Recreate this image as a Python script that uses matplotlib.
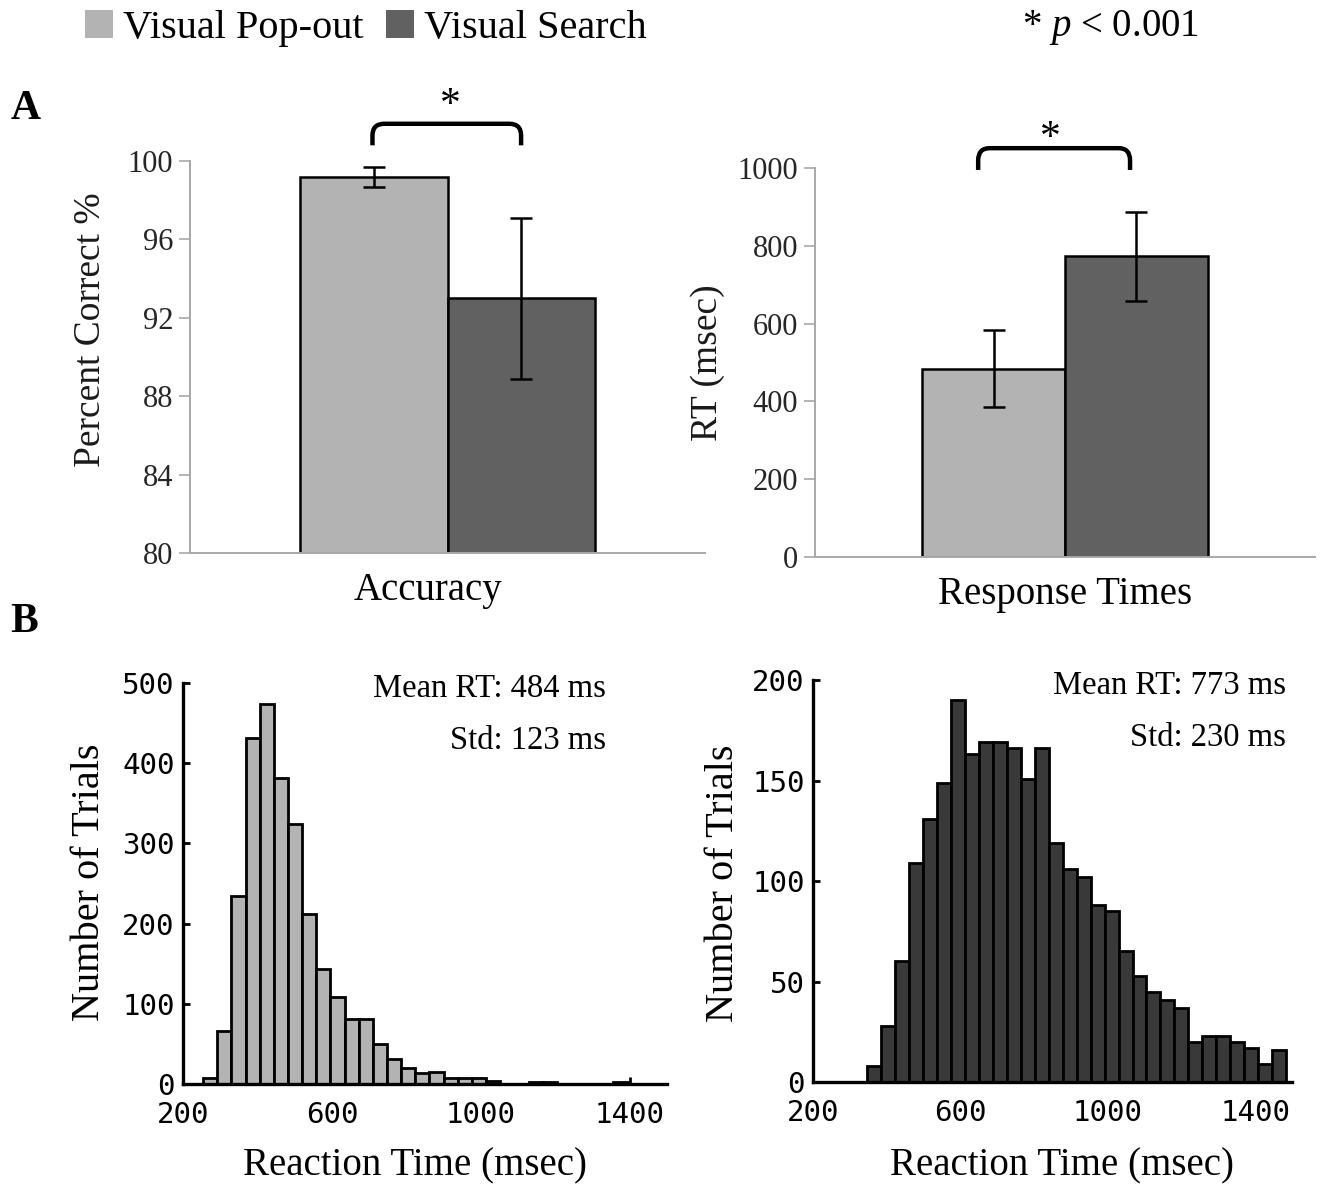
import numpy as np
import matplotlib.pyplot as plt
from matplotlib.patches import Patch, PathPatch
from matplotlib.path import Path

plt.rcParams['font.family'] = ['Liberation Serif', 'DejaVu Serif']
plt.rcParams['mathtext.fontset'] = 'custom'
plt.rcParams['mathtext.rm'] = 'Liberation Serif'
plt.rcParams['mathtext.it'] = 'Liberation Serif:italic'

# ---------------- data ----------------
conditions = ["Visual Pop-out", "Visual Search"]
acc_mean = [99.2, 93.0]
acc_err = [0.5, 4.1]
rt_mean = [484, 773]
rt_err = [99, 115]

# histograms: 30 bins, start (ms) and width (ms)
popout_start, popout_width = 254, 38
popout_counts = [8, 66, 235, 432, 474, 382, 324, 212, 143, 108,
                 81, 81, 50, 31, 20, 14, 15, 7, 7, 7,
                 4, 0, 0, 3, 3, 0, 0, 0, 0, 3]
search_start, search_width = 347, 37.9
search_counts = [8, 28, 60, 109, 131, 149, 190, 163, 169, 169,
                 166, 151, 166, 119, 106, 102, 88, 85, 65, 53,
                 45, 41, 37, 20, 23, 23, 20, 17, 9, 16]
popout_stats = ("Mean RT: 484 ms", "Std: 123 ms")
search_stats = ("Mean RT: 773 ms", "Std: 230 ms")

c_light = '#b3b3b3'
c_dark = '#616161'
c_hist_dark = '#393939'
axis_grey = '#a8a8a8'

fig = plt.figure(figsize=(13.25, 11.84), dpi=100)


def bracket(ax, x0, x1, y_top, y_end, rx, ry):
    verts = [(x0, y_end), (x0, y_top - ry), (x0, y_top), (x0 + rx, y_top),
             (x1 - rx, y_top), (x1, y_top), (x1, y_top - ry), (x1, y_end)]
    codes = [Path.MOVETO, Path.LINETO, Path.CURVE3, Path.CURVE3,
             Path.LINETO, Path.CURVE3, Path.CURVE3, Path.LINETO]
    p = PathPatch(Path(verts, codes), fill=False, lw=3.2, color='black',
                  clip_on=False, capstyle='butt')
    ax.add_patch(p)


def bar_panel(rect, means, errs, ylim, yticks, ylabel, xlabel, label_xpos,
              ylabel_coords, br):
    ax = fig.add_axes(rect)
    x = np.arange(len(means))
    ax.bar(x, means, width=1.0, color=[c_light, c_dark], edgecolor='black',
           linewidth=1.8, zorder=2)
    ax.errorbar(x, means, yerr=errs, fmt='none', ecolor='black',
                elinewidth=1.8, capsize=8, capthick=1.8, zorder=3)
    ax.set_xlim(-1.25, 2.25)
    ax.set_ylim(*ylim)
    ax.set_yticks(yticks)
    ax.set_xticks([label_xpos])
    ax.set_xticklabels([xlabel], fontsize=28)
    ax.tick_params(axis='x', length=0, pad=14)
    ax.tick_params(axis='y', direction='out', length=8, width=1.2,
                   color=axis_grey, labelsize=22, labelcolor='#262626', pad=4)
    for s in ['top', 'right']:
        ax.spines[s].set_visible(False)
    for s in ['left', 'bottom']:
        ax.spines[s].set_color(axis_grey)
        ax.spines[s].set_linewidth(1.4)
    ax.set_ylabel(ylabel, fontsize=27, color='#1a1a1a')
    ax.yaxis.set_label_coords(*ylabel_coords)
    # br: x0, x1, y_top, y_end, ry, star_x, star_y
    bracket(ax, br[0], br[1], br[2], br[3], 0.08, br[4])
    ax.text(br[5], br[6], '*', ha='center', va='center', fontsize=30,
            clip_on=False)
    return ax


bar_panel([0.1434, 0.5329, 0.3887, 0.3311], acc_mean, acc_err, (80, 100),
          [80, 84, 88, 92, 96, 100], 'Percent Correct %', 'Accuracy', 0.37,
          (-0.159, 0.57), (-0.01, 1.0, 101.9, 100.8, 0.6, 0.52, 102.8))
bar_panel([0.6151, 0.5296, 0.3774, 0.3285], rt_mean, rt_err, (0, 1000),
          [0, 200, 400, 600, 800, 1000], 'RT (msec)', 'Response Times', 0.5,
          (-0.18, 0.5), (-0.108, 0.955, 1051, 995, 31, 0.395, 1075))


def hist_panel(rect, start, width, counts, color, ymax, yticks, stats,
               stats_x, ylabel_coords, xlabel_coords):
    ax = fig.add_axes(rect)
    edges = start + width * np.arange(len(counts))
    ax.bar(edges, counts, width=width, align='edge', color=color,
           edgecolor='black', linewidth=2.0, zorder=3)
    ax.set_xlim(200, 1500)
    ax.set_ylim(0, ymax)
    ax.set_xticks([200, 600, 1000, 1400])
    ax.set_yticks(yticks)
    for s in ['top', 'right']:
        ax.spines[s].set_visible(False)
    for s in ['left', 'bottom']:
        ax.spines[s].set_linewidth(2.4)
        ax.spines[s].set_zorder(4)
    ax.tick_params(direction='in', length=5, width=2, labelsize=21)
    ax.tick_params(axis='x', pad=12)
    ax.tick_params(axis='y', pad=6)
    for lab in ax.get_xticklabels() + ax.get_yticklabels():
        lab.set_fontfamily('DejaVu Sans Mono')
    ax.set_ylabel('Number of Trials', fontsize=29)
    ax.set_xlabel('Reaction Time (msec)', fontsize=28)
    ax.yaxis.set_label_coords(*ylabel_coords)
    ax.xaxis.set_label_coords(*xlabel_coords)
    ax.text(stats_x, 0.985, stats[0], transform=ax.transAxes, ha='right',
            va='center', fontsize=23.5)
    ax.text(stats_x, 0.857, stats[1], transform=ax.transAxes, ha='right',
            va='center', fontsize=23.5)
    return ax


hist_panel([0.1381, 0.08446, 0.3653, 0.3387], popout_start, popout_width,
           popout_counts, c_light, 500, [0, 100, 200, 300, 400, 500],
           popout_stats, 0.874, (-0.155, 0.504), (0.479, -0.157))
hist_panel([0.6136, 0.0861, 0.3615, 0.3395], search_start, search_width,
           search_counts, c_hist_dark, 200, [0, 50, 100, 150, 200],
           search_stats, 0.987, (-0.148, 0.495), (0.52, -0.162))

# legend and labels
handles = [Patch(facecolor=c_light, edgecolor='none'),
           Patch(facecolor=c_dark, edgecolor='none')]
fig.legend(handles, conditions, loc='upper left', bbox_to_anchor=(0.052, 1.005),
           ncol=2, frameon=False, fontsize=29, handlelength=0.7,
           handleheight=0.7, handletextpad=0.25, columnspacing=0.55,
           borderaxespad=0.0)
fig.text(0.771, 0.977, '* $p$ < 0.001', fontsize=28, va='center', ha='left')
fig.text(0.008, 0.908, 'A', fontsize=30, fontweight='bold', va='center')
fig.text(0.008, 0.475, 'B', fontsize=30, fontweight='bold', va='center')

fig.savefig('out.png', dpi=100)
